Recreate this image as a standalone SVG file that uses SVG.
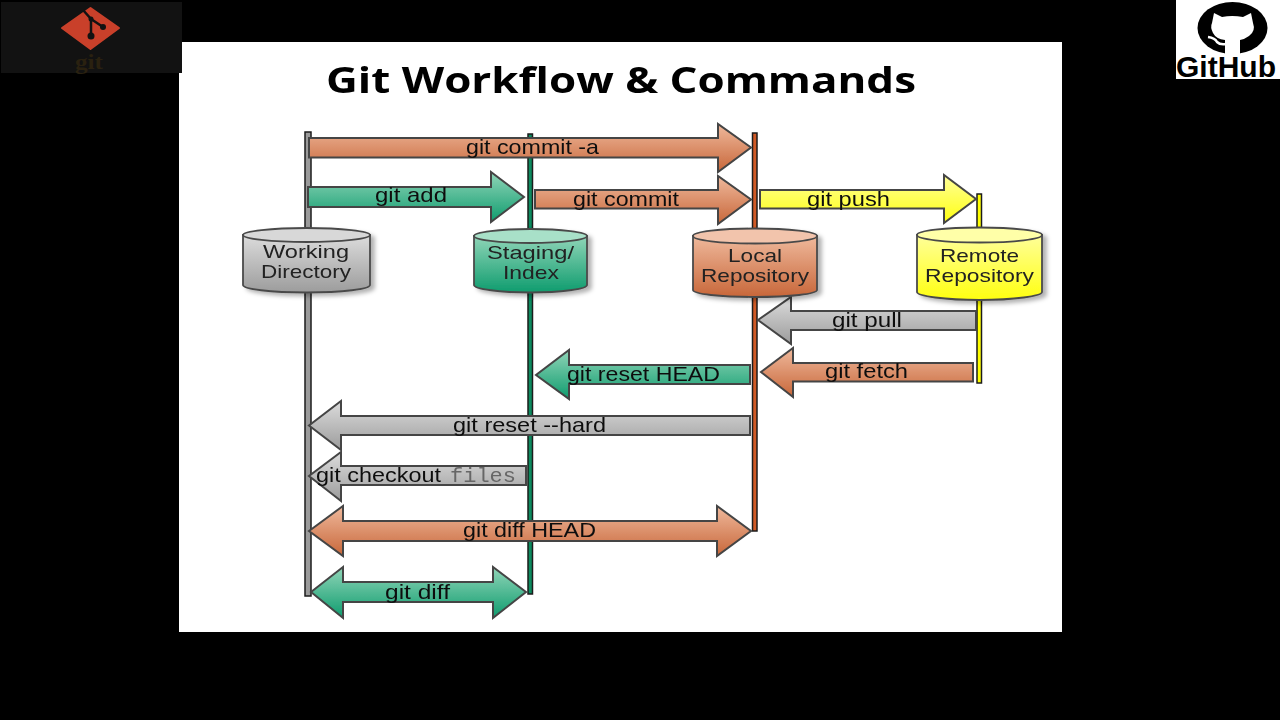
<svg xmlns="http://www.w3.org/2000/svg" width="1280" height="720" viewBox="0 0 1280 720">
<defs>
<linearGradient id="gs" x1="0" y1="0" x2="0" y2="1"><stop offset="0" stop-color="#dcdcdc"/><stop offset="1" stop-color="#9c9c9c"/></linearGradient>
<linearGradient id="gg" x1="0" y1="0" x2="0" y2="1"><stop offset="0" stop-color="#90d5b8"/><stop offset="1" stop-color="#0f9c6e"/></linearGradient>
<linearGradient id="go" x1="0" y1="0" x2="0" y2="1"><stop offset="0" stop-color="#efb99c"/><stop offset="1" stop-color="#c8673a"/></linearGradient>
<linearGradient id="gy" x1="0" y1="0" x2="0" y2="1"><stop offset="0" stop-color="#ffff9a"/><stop offset="1" stop-color="#ffff10"/></linearGradient>
<filter id="sh" x="-10%" y="-10%" width="125%" height="125%"><feDropShadow dx="4" dy="3" stdDeviation="2" flood-color="#000" flood-opacity="0.3"/></filter>
<filter id="soft" x="0" y="0" width="1280" height="720" filterUnits="userSpaceOnUse"><feGaussianBlur stdDeviation="0.45"/></filter>
</defs>
<style>
text{font-family:"Liberation Sans",Arial,sans-serif;fill:#111}
.lab{font-size:21px}
.cyl{font-size:19px;fill:#222}
.a{stroke:#444;stroke-width:2;stroke-linejoin:miter}
.c{stroke:#4a4a4a;stroke-width:1.800}
.l{stroke:#1c1c1c;stroke-width:1.500}
.s{fill:url(#gs)}.g{fill:url(#gg)}.o{fill:url(#go)}.y{fill:url(#gy)}
</style>
<rect width="1280" height="720" fill="#000"/>
<rect x="179" y="42" width="883" height="590" fill="#fff"/>
<g id="git-logo">
<rect x="1" y="2" width="181" height="71" fill="#121212"/>
<path d="M90.500 8 L119 28 L90.500 49 L62 28 Z" fill="#c9402a" stroke="#c9402a" stroke-width="2" stroke-linejoin="round"/>
<path d="M83 10 L91 19 L91 36 M91 19 L103 27" fill="none" stroke="#121212" stroke-width="2.500"/>
<circle cx="91" cy="36" r="3.500" fill="#121212"/><circle cx="91" cy="19" r="2.500" fill="#121212"/><circle cx="103" cy="27" r="3" fill="#121212"/>
<text x="75" y="69" textLength="28" lengthAdjust="spacingAndGlyphs" style="font-family:'Liberation Serif',serif;font-weight:bold;font-size:20px;fill:#2a2110">git</text>
</g>
<g id="github-logo">
<rect x="1176" y="0" width="104" height="79" fill="#fff"/>
<ellipse cx="1232.500" cy="28" rx="35" ry="26" fill="#000"/>
<path d="M1214 13 L1222 17 Q1232 15 1243 17 L1251 13 L1253 23 Q1256 31 1249 36 Q1245 39 1240 40 L1240 56 L1225 56 L1225 40 Q1216 39 1213 33 Q1210 27 1212 23 Z" fill="#fff"/>
<path d="M1208 37 Q1215 38 1217 42 Q1220 45 1226 44" fill="none" stroke="#fff" stroke-width="2.500"/>
<text x="1176" y="77" textLength="100" lengthAdjust="spacingAndGlyphs" style="font-weight:bold;font-size:30px;fill:#000">GitHub</text>
</g>
<g filter="url(#soft)">
<text id="title" x="326" y="93" textLength="590" lengthAdjust="spacingAndGlyphs" style="font-family:'Open Sans',sans-serif;font-weight:bold;font-size:36px;fill:#000">Git Workflow &amp; Commands</text>
<g id="connectors">
<rect class="l" x="305" y="132" width="6" height="464" fill="#9a9a9a"/>
<rect class="l" x="528" y="134" width="4.500" height="460" fill="#078a5e"/>
<rect class="l" x="752.500" y="133" width="4.500" height="398" fill="#d05a25"/>
<rect class="l" x="977" y="194" width="4.500" height="189" fill="#ffff00"/>
<path class="a o" d="M309 138H718V124L751 147.500L718 172V157.500H309Z"/>
<path class="a g" d="M308 187H491V172L524 197L491 222V207H308Z"/>
<path class="a o" d="M535 190H718V176L751 199.500L718 224V208.500H535Z"/>
<path class="a y" d="M760 190H944V175L976 199L944 223V208.500H760Z"/>
<path class="a s" d="M976 311H791V297L758 320L791 344V330H976Z"/>
<path class="a o" d="M973 363H793V348L761 372L793 397V381.500H973Z"/>
<path class="a g" d="M750 365H569V350L536 375L569 399V384H750Z"/>
<path class="a s" d="M750 416H341V401L309 425.500L341 450V435H750Z"/>
<path class="a s" d="M526 466H341V452L309 476L341 501V485H526Z"/>
<path class="a o" d="M309 531L343 506V521H717V506L751 531L717 556V541H343V556Z"/>
<path class="a g" d="M311 592L343 567V582H493V567L526 592L493 618V602H343V618Z"/>
</g>
<g id="arrow-labels" class="lab">
<text x="466" y="154" textLength="133" lengthAdjust="spacingAndGlyphs">git commit -a</text>
<text x="375" y="202" textLength="72" lengthAdjust="spacingAndGlyphs">git add</text>
<text x="573" y="206" textLength="106" lengthAdjust="spacingAndGlyphs">git commit</text>
<text x="807" y="206" textLength="83" lengthAdjust="spacingAndGlyphs">git push</text>
<text x="832" y="327" textLength="70" lengthAdjust="spacingAndGlyphs">git pull</text>
<text x="825" y="378" textLength="83" lengthAdjust="spacingAndGlyphs">git fetch</text>
<text x="567" y="381" textLength="153" lengthAdjust="spacingAndGlyphs">git reset HEAD</text>
<text x="453" y="432" textLength="153" lengthAdjust="spacingAndGlyphs">git reset --hard</text>
<text x="316" y="482" textLength="125" lengthAdjust="spacingAndGlyphs">git checkout</text>
<text x="450" y="482" textLength="66" lengthAdjust="spacingAndGlyphs" style="font-family:'Liberation Mono',monospace;fill:#666">files</text>
<text x="463" y="537" textLength="133" lengthAdjust="spacingAndGlyphs">git diff HEAD</text>
<text x="385" y="599" textLength="65" lengthAdjust="spacingAndGlyphs">git diff</text>
</g>
<g id="working-directory" filter="url(#sh)">
<path class="c s" d="M243 235V285C243 289 270 292.500 306.500 292.500S370 289 370 285V235Z"/>
<ellipse class="c" cx="306.500" cy="235" rx="63.500" ry="7" fill="#d8d8d8"/>
<text class="cyl" x="263" y="258" textLength="86" lengthAdjust="spacingAndGlyphs">Working</text><text class="cyl" x="261" y="277.500" textLength="90" lengthAdjust="spacingAndGlyphs">Directory</text>
</g>
<g id="staging-index" filter="url(#sh)">
<path class="c g" d="M474 236V285C474 289 500 292.500 530.500 292.500S587 289 587 285V236Z"/>
<ellipse class="c" cx="530.500" cy="236" rx="56.500" ry="7" fill="#a8e0c8"/>
<text class="cyl" x="487" y="259" textLength="87" lengthAdjust="spacingAndGlyphs">Staging/</text><text class="cyl" x="503" y="278.500" textLength="56" lengthAdjust="spacingAndGlyphs">Index</text>
</g>
<g id="local-repository" filter="url(#sh)">
<path class="c o" d="M693 236V290C693 294 720 297 755 297S817 294 817 290V236Z"/>
<ellipse class="c" cx="755" cy="236" rx="62" ry="7.500" fill="#f2c4ac"/>
<text class="cyl" x="728" y="262" textLength="54" lengthAdjust="spacingAndGlyphs">Local</text><text class="cyl" x="701" y="281.500" textLength="108" lengthAdjust="spacingAndGlyphs">Repository</text>
</g>
<g id="remote-repository" filter="url(#sh)">
<path class="c y" d="M917 235V292C917 296 945 300 979.500 300S1042 296 1042 292V235Z"/>
<ellipse class="c" cx="979.500" cy="235" rx="62.500" ry="7.500" fill="#ffffa8"/>
<text class="cyl" x="940" y="262" textLength="79" lengthAdjust="spacingAndGlyphs">Remote</text><text class="cyl" x="925" y="282" textLength="109" lengthAdjust="spacingAndGlyphs">Repository</text>
</g>
</g>
</svg>
